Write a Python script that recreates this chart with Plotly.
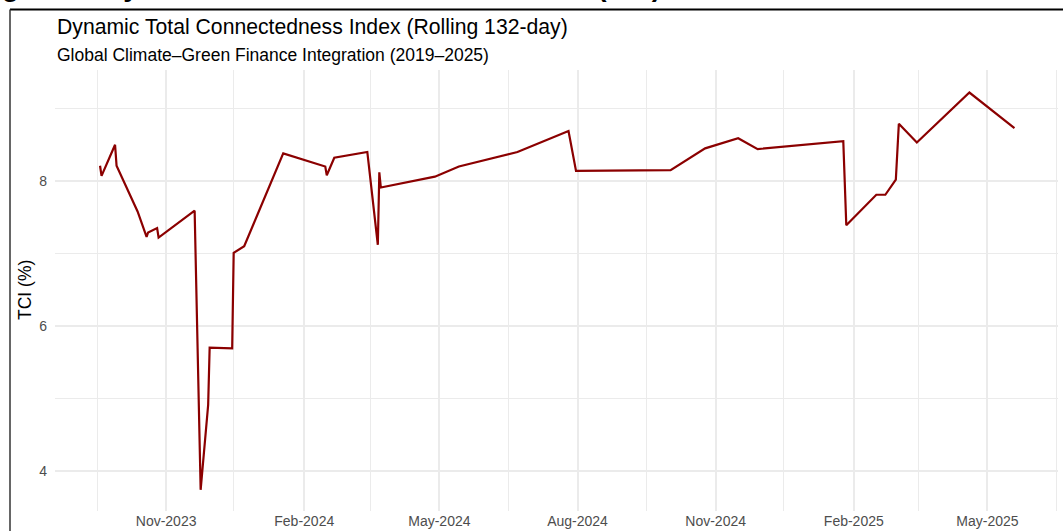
import plotly.graph_objects as go

# ---- data ----
dates = ["2023-09-18", "2023-09-19", "2023-09-28", "2023-09-29", "2023-10-13",
         "2023-10-19", "2023-10-20", "2023-10-26", "2023-10-27", "2023-11-20",
         "2023-11-24", "2023-11-29", "2023-11-30", "2023-12-15", "2023-12-16",
         "2023-12-23", "2024-01-18", "2024-02-15", "2024-02-16", "2024-02-21",
         "2024-03-14", "2024-03-21", "2024-03-22", "2024-03-23", "2024-04-28",
         "2024-05-14", "2024-06-22", "2024-07-26", "2024-07-31", "2024-10-02",
         "2024-10-25", "2024-11-16", "2024-11-29", "2025-01-25", "2025-01-27",
         "2025-02-16", "2025-02-22", "2025-03-01", "2025-03-03", "2025-03-15",
         "2025-04-19", "2025-05-19"]
tci = [8.21, 8.07, 8.50, 8.21, 7.58,
       7.23, 7.29, 7.35, 7.22, 7.59,
       3.74, 4.91, 5.70, 5.69, 7.01,
       7.10, 8.38, 8.20, 8.08, 8.32,
       8.40, 7.12, 8.12, 7.91, 8.06,
       8.20, 8.40, 8.69, 8.14, 8.15,
       8.45, 8.59, 8.44, 8.55, 7.39,
       7.81, 7.81, 8.02, 8.79, 8.53,
       9.22, 8.73]

title_text = "Dynamic Total Connectedness Index (Rolling 132-day)"
subtitle_text = "Global Climate\u2013Green Finance Integration (2019\u20132025)"
ytitle_text = "TCI (%)"
caption_text = "Figure 6: Dynamic Total Connectedness Index (TCI)"

FONT = "Liberation Sans, Arial, sans-serif"
W, H = 1063, 531
ML, MR, MT, MB = 55, 5, 70, 20
PW, PH = W - ML - MR, H - MT - MB

def px_x(p):
    return (p - ML) / PW

def px_y(p):
    return 1 - (p - MT) / PH

fig = go.Figure()
fig.add_trace(go.Scatter(
    x=dates, y=tci, mode="lines",
    line=dict(color="#8B0000", width=2.2),
    hoverinfo="x+y", showlegend=False,
))

grid_major = "#ebebeb"
fig.update_xaxes(
    type="date",
    range=["2023-08-19", "2025-06-17"],
    tick0="2023-11-01", dtick="M3", tickformat="%b-%Y",
    showgrid=True, gridcolor=grid_major, gridwidth=1.6,
    minor=dict(tick0="2023-09-16", dtick="M3", showgrid=True,
               gridcolor=grid_major, gridwidth=0.9),
    zeroline=False, showline=False, ticks="",
    tickfont=dict(family=FONT, size=14, color="#4d4d4d"),
    automargin=False,
)
fig.update_yaxes(
    range=[3.448, 9.531],
    tick0=0, dtick=2,
    showgrid=True, gridcolor=grid_major, gridwidth=1.6,
    minor=dict(dtick=1, showgrid=True, gridcolor=grid_major, gridwidth=0.9),
    zeroline=False, showline=False, ticks="",
    ticklabelstandoff=7,
    tickfont=dict(family=FONT, size=14, color="#4d4d4d"),
    automargin=False,
)

annotations = [
    dict(text=title_text, xref="paper", yref="paper", x=0, y=px_y(27),
         xanchor="left", yanchor="middle", showarrow=False,
         font=dict(family=FONT, size=21.2, color="#000000")),
    dict(text=subtitle_text, xref="paper", yref="paper", x=0, y=px_y(55),
         xanchor="left", yanchor="middle", showarrow=False,
         font=dict(family=FONT, size=17.5, color="#000000")),
    dict(text=ytitle_text, xref="paper", yref="paper", x=px_x(25), y=px_y(290),
         xanchor="center", yanchor="middle", textangle=-90, showarrow=False,
         font=dict(family=FONT, size=17.5, color="#000000")),
    dict(text="<b>" + caption_text + "</b>", xref="paper", yref="paper",
         x=px_x(-25), y=px_y(-13), xanchor="left", yanchor="middle",
         showarrow=False, font=dict(family=FONT, size=28, color="#000000")),
]

shapes = [
    dict(type="line", xref="paper", yref="paper", x0=px_x(10), x1=px_x(W + 5),
         y0=px_y(9.5), y1=px_y(9.5), line=dict(color="#000000", width=1.8)),
    dict(type="line", xref="paper", yref="paper", x0=px_x(10), x1=px_x(10),
         y0=px_y(9.5), y1=px_y(H + 5), line=dict(color="#333333", width=1.5)),
]

fig.update_layout(
    width=W, height=H,
    margin=dict(l=ML, r=MR, t=MT, b=MB, pad=0),
    paper_bgcolor="white", plot_bgcolor="white",
    font=dict(family=FONT),
    annotations=annotations, shapes=shapes,
    showlegend=False,
)

fig.write_html(
    "out.html", include_plotlyjs=True,
    config={"displayModeBar": False},
    post_script="document.body.style.margin='0';document.body.style.padding='0';",
)
